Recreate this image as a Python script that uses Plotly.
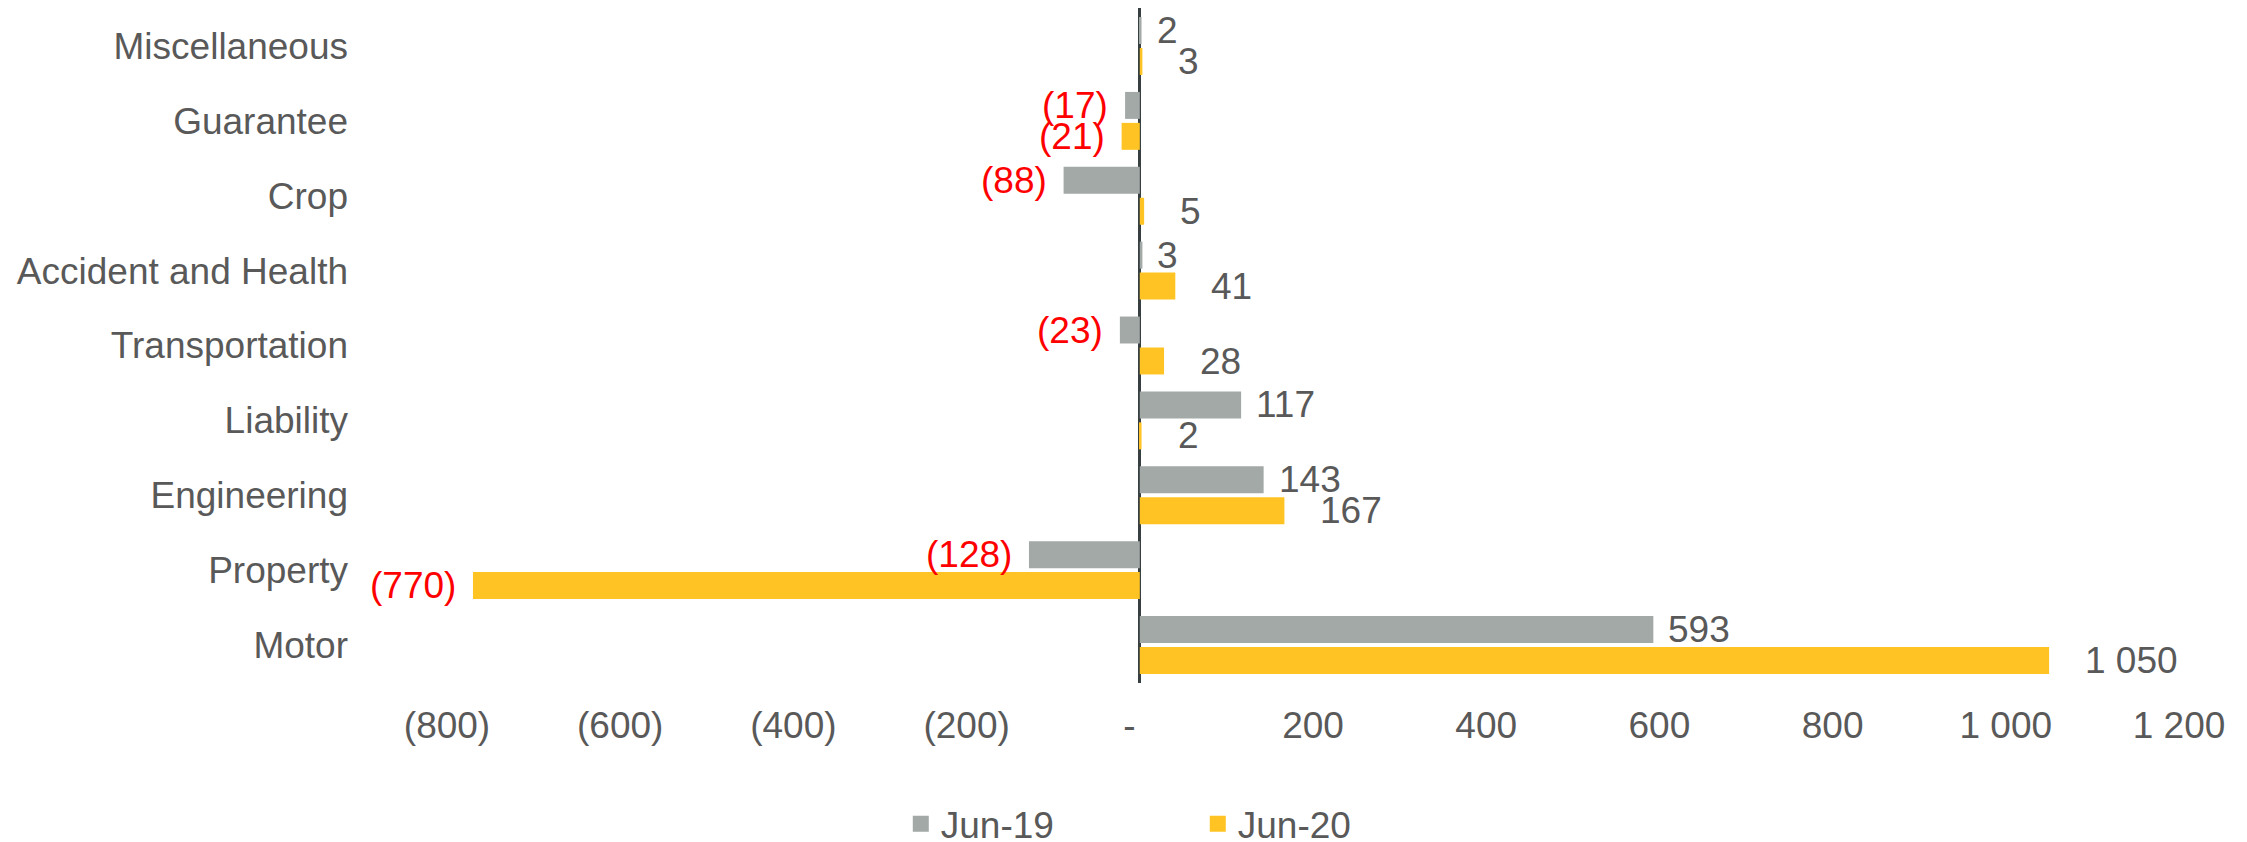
import plotly.graph_objects as go

categories = ["Miscellaneous", "Guarantee", "Crop", "Accident and Health", "Transportation",
              "Liability", "Engineering", "Property", "Motor"]
jun19 = [2, -17, -88, 3, -23, 117, 143, -128, 593]
jun20 = [3, -21, 5, 41, 28, 2, 167, -770, 1050]
series_names = ["Jun-19", "Jun-20"]
tick_vals = [-800, -600, -400, -200, 0, 200, 400, 600, 800, 1000, 1200]
tick_text = ["(800)", "(600)", "(400)", "(200)", "-\u00a0\u00a0", "200", "400", "600", "800", "1 000", "1 200"]

GRAY = "#A2A9A6"
YELLOW = "#FFC423"
TEXT = "#595959"
RED = "#FF0000"
FONT = "Liberation Sans, Arial, sans-serif"
FS = 37


def fmt(v):
    s = f"{abs(v):,}".replace(",", " ")
    return f"({s})" if v < 0 else s


fig = go.Figure()
for name, vals, col in [(series_names[0], jun19, GRAY), (series_names[1], jun20, YELLOW)]:
    fig.add_trace(go.Bar(y=categories, x=vals, name=name, orientation="h",
                         marker=dict(color=col, line=dict(width=0)), showlegend=False,
                         hoverinfo="x+y"))
# legend proxies
for name, col in [(series_names[0], GRAY), (series_names[1], YELLOW)]:
    fig.add_trace(go.Scatter(x=[None], y=[None], name=name, mode="markers",
                             marker=dict(symbol="square", size=18, color=col)))

annotations = []
for vals, yshift, pos_gap in [(jun19, 15.5, 13), (jun20, -15.5, 34)]:
    for c, v in zip(categories, vals):
        neg = v < 0
        annotations.append(dict(
            x=v, y=c, xref="x", yref="y", text=fmt(v), showarrow=False,
            xanchor="right" if neg else "left", yanchor="middle",
            xshift=-15 if neg else pos_gap, yshift=yshift,
            font=dict(family=FONT, size=FS, color=RED if neg else TEXT)))

fig.update_layout(
    width=2247, height=842,
    margin=dict(l=439, r=76, t=0, b=167, autoexpand=False),
    paper_bgcolor="white", plot_bgcolor="white",
    barmode="group", bargap=0.173, bargroupgap=0.129,
    font=dict(family=FONT, size=FS, color=TEXT),
    annotations=annotations,
    legend=dict(orientation="h", x=0.262, xanchor="left", y=-0.209, yanchor="middle",
                entrywidth=252, font=dict(family=FONT, size=FS, color=TEXT),
                bgcolor="rgba(0,0,0,0)"),
    xaxis=dict(range=[-800, 1200], tickvals=tick_vals, ticktext=tick_text,
               showgrid=False, showline=False, zeroline=True,
               zerolinecolor="#373F41", zerolinewidth=3, ticks="",
               ticklabelstandoff=17, tickfont=dict(family=FONT, size=FS, color=TEXT)),
    yaxis=dict(autorange="reversed", showgrid=False, showline=False, zeroline=False,
               ticks="", ticklabelstandoff=98, tickfont=dict(family=FONT, size=FS, color=TEXT)),
)

fig.write_html("out.html")
